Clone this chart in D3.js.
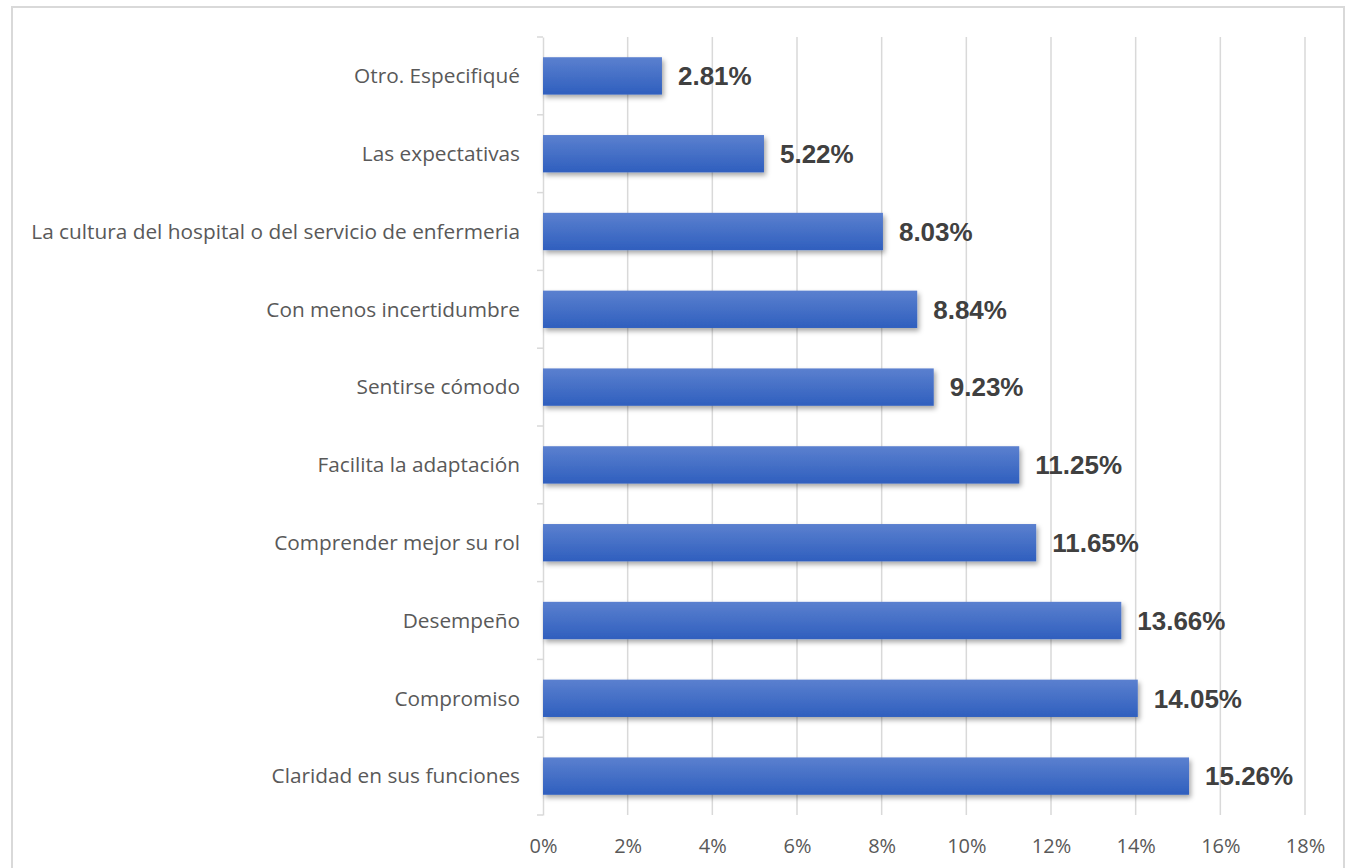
<!DOCTYPE html>
<html>
<head>
<meta charset="utf-8">
<script src="https://cdn.jsdelivr.net/npm/d3@7"></script>
<style>
  html, body { margin: 0; padding: 0; background: #fff; }
  svg { display: block; }
</style>
</head>
<body>
<script>
// Categories, top to bottom
const categories = [
  "Otro. Especifiqué",
  "Las expectativas",
  "La cultura del hospital o del servicio de enfermeria",
  "Con menos incertidumbre",
  "Sentirse cómodo",
  "Facilita la adaptación",
  "Comprender mejor su rol",
  "Desempeño",
  "Compromiso",
  "Claridad en sus funciones"
];
// Percentages per category
const values = [2.81, 5.22, 8.03, 8.84, 9.23, 11.25, 11.65, 13.66, 14.05, 15.26];
// Axis ticks (percent)
const ticks = [0, 2, 4, 6, 8, 10, 12, 14, 16, 18];

const W = 1347, H = 868;
const svg = d3.select("body").append("svg").attr("width", W).attr("height", H);

const defs = svg.append("defs");
const grad = defs.append("linearGradient").attr("id", "barGrad")
  .attr("x1", 0).attr("y1", 0).attr("x2", 0).attr("y2", 1);
grad.append("stop").attr("offset", "0%").attr("stop-color", "#5b80cf");
grad.append("stop").attr("offset", "100%").attr("stop-color", "#2f5fbe");
const sh = defs.append("filter").attr("id", "shadow")
  .attr("x", "-5%").attr("y", "-30%").attr("width", "115%").attr("height", "170%");
sh.append("feDropShadow").attr("dx", 2).attr("dy", 3).attr("stdDeviation", 2.5)
  .attr("flood-color", "#000").attr("flood-opacity", 0.35);

// Chart frame
svg.append("rect").attr("x", 12).attr("y", 7).attr("width", 1332).attr("height", 880)
  .attr("fill", "none").attr("stroke", "#d9d9d9").attr("stroke-width", 2);

const x = d3.scaleLinear().domain([0, 18]).range([543, 1305]);
const y = d3.scaleBand().domain(categories).range([37, 815]).paddingInner(0.52).paddingOuter(0.26);
const yOuter = d3.scaleBand().domain(categories).range([37, 815]);

// Vertical gridlines
svg.append("g").selectAll("line").data(ticks.slice(1)).join("line")
  .attr("x1", d => x(d)).attr("x2", d => x(d))
  .attr("y1", 37).attr("y2", 815)
  .attr("stroke", "#d9d9d9").attr("stroke-width", 1.5);

// Category axis line and tick marks
const yAxis = d3.axisLeft(yOuter).tickSize(0).tickFormat("");
const ya = svg.append("g").attr("transform", `translate(${x(0)},0)`).call(yAxis);
ya.select(".domain").attr("stroke", "#d9d9d9").attr("stroke-width", 1.5);
const bounds = d3.range(categories.length + 1).map(i => 37 + i * yOuter.step());
svg.append("g").selectAll("line").data(bounds).join("line")
  .attr("x1", x(0) - 6).attr("x2", x(0))
  .attr("y1", d => d).attr("y2", d => d)
  .attr("stroke", "#d9d9d9").attr("stroke-width", 1.5);

// Category labels
svg.append("g").selectAll("text").data(categories).join("text")
  .attr("x", 520).attr("y", d => yOuter(d) + yOuter.bandwidth() / 2)
  .attr("dy", "0.35em").attr("text-anchor", "end")
  .attr("font-family", "'Open Sans', sans-serif").attr("font-size", 20.8)
  .attr("fill", "#595959").text(d => d);

// Bars
svg.append("g").selectAll("rect").data(values).join("rect")
  .attr("x", x(0)).attr("y", (d, i) => y(categories[i]))
  .attr("width", d => x(d) - x(0)).attr("height", y.bandwidth())
  .attr("fill", "url(#barGrad)").attr("filter", "url(#shadow)");

// Value labels
svg.append("g").selectAll("text").data(values).join("text")
  .attr("x", d => x(d) + 16).attr("y", (d, i) => y(categories[i]) + y.bandwidth() / 2)
  .attr("dy", "0.36em")
  .attr("font-family", "'Liberation Sans', Arial, sans-serif").attr("font-weight", "bold")
  .attr("font-size", 26).attr("fill", "#404040")
  .text(d => d.toFixed(2) + "%");

// Value axis labels
const xAxis = d3.axisBottom(x).tickValues(ticks).tickSize(0).tickFormat(d => d + "%");
const xa = svg.append("g").attr("transform", "translate(0,836)").call(xAxis);
xa.select(".domain").remove();
xa.selectAll("text").attr("font-family", "'Open Sans', sans-serif")
  .attr("font-size", 20).attr("fill", "#595959");
</script>
</body>
</html>
